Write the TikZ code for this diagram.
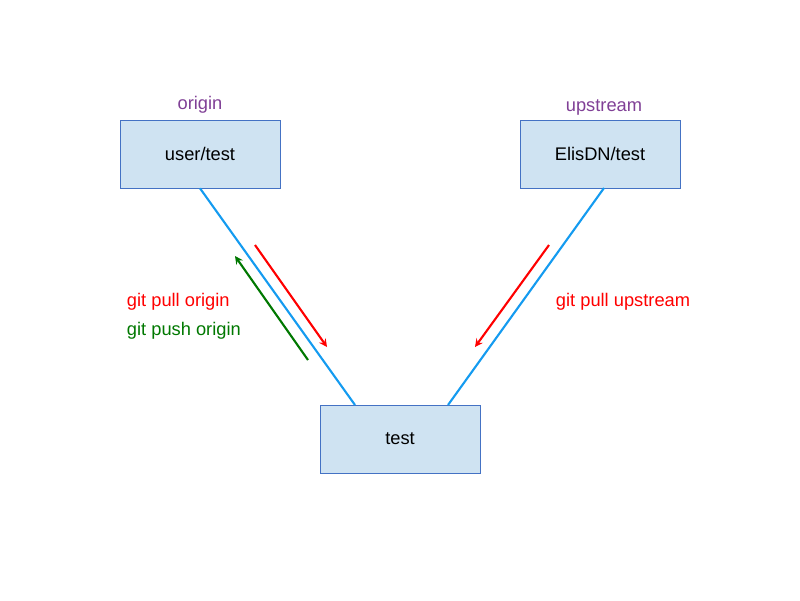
\documentclass[tikz,border=0pt]{standalone}
\usepackage{fontspec}
\setmainfont{Liberation Sans}
\usepackage{xcolor}
\usetikzlibrary{arrows, positioning, calc}

\definecolor{boxfill}{RGB}{207,227,242}
\definecolor{boxline}{RGB}{68,114,196}
\definecolor{linkblue}{RGB}{20,155,240}
\definecolor{remotecol}{RGB}{128,64,150}
\definecolor{pushgreen}{RGB}{0,120,0}

\begin{document}
\begin{tikzpicture}[
  x=0.025cm, y=-0.025cm,
  repo/.style={rectangle, draw=boxline, fill=boxfill, minimum width=4cm, minimum height=1.7cm, align=center, font=\fontsize{13}{15}\selectfont},
  remote/.style={text=remotecol, font=\fontsize{13}{15}\selectfont},
  cmd/.style={anchor=west, font=\fontsize{13}{15}\selectfont},
  link/.style={linkblue, line width=1.5pt},
  arrow/.style={-stealth, line width=1.5pt}
]
\useasboundingbox (0,0) rectangle (800,600);

% Repositories
\node[repo] (usr) at (200,154) {user/test};
\node[repo] (ups) at (600,154) {ElisDN/test};
\node[repo] (tst) at (400,439) {test};
\node[remote] (orig) at (200,105) {origin};
\node[remote] (upsname) at (604,107) {upstream};

% Links
\coordinate (tstl) at (355,405);
\coordinate (tstr) at (448,405);
\coordinate (upsb) at (604,188);
\draw[link] (usr.south) -- (tstl);
\draw[link] (upsb) -- (tstr);

% Commands
\coordinate (pullA) at (255,245);
\coordinate (pullB) at (327,347);
\coordinate (pushA) at (308,360);
\coordinate (pushB) at (235,256);
\coordinate (upA) at (549,245);
\coordinate (upB) at (475,347);
\draw[arrow, red] (pullA) -- (pullB);
\draw[arrow, pushgreen] (pushA) -- (pushB);
\draw[arrow, red] (upA) -- (upB);

\node[cmd, text=red] (pullorig) at (122,302) {git pull origin};
\node[cmd, text=pushgreen] (pushorig) at (122,331) {git push origin};
\node[cmd, text=red] (pullups) at (551,302) {git pull upstream};

\end{tikzpicture}
\end{document}
